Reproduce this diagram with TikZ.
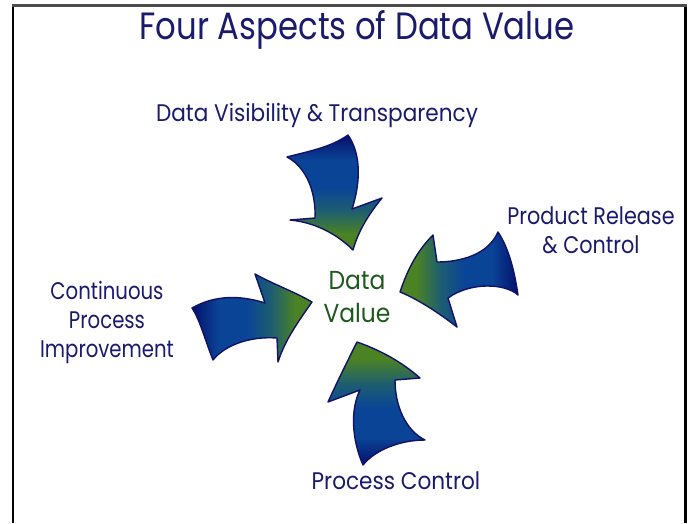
\documentclass[tikz,border=0pt]{standalone}
\usepackage{fontspec}
\setmainfont{Poppins}
\definecolor{txtnavy}{HTML}{1A1A6E}
\definecolor{txtgreen}{HTML}{1E5A1E}
\definecolor{arrnavy}{HTML}{04106A}
\definecolor{arrblue}{HTML}{0A4496}
\definecolor{arrteal}{HTML}{1E5E70}
\definecolor{arrgreen}{HTML}{4A8224}
\definecolor{arredge}{HTML}{121268}
\pgfdeclarehorizontalshading{arrowgrad}{100bp}{color(0bp)=(arrnavy); color(25bp)=(arrnavy); color(36bp)=(arrblue); color(48bp)=(arrblue); color(58bp)=(arrteal); color(68bp)=(arrgreen); color(100bp)=(arrgreen)}
\begin{document}
\begin{tikzpicture}[x=1pt,y=-1pt,
  lbl/.style={text=txtnavy,align=center,inner sep=0pt},
  ctr/.style={text=txtgreen,align=center,inner sep=0pt},
  arrowshape/.style={draw=arredge,line width=1.4pt,line join=round,shading=arrowgrad},
  frame/.style={line width=2.4pt}]
\useasboundingbox (0,0) rectangle (692,523);
\fill[white] (0,0) rectangle (692,523);
% frame
\draw[frame,black] (13,523) -- (13,5.5);
\draw[frame,black] (685.5,523) -- (685.5,5.5);
\draw[frame,black!70] (11.8,5.5) -- (686.7,5.5);
% title
\node[lbl,font=\fontsize{38}{44}\selectfont] (title) at (357,30) {\scalebox{0.85}[1]{Four Aspects of Data Value}};
% labels
\node[lbl,font=\fontsize{24}{29}\selectfont] (vis) at (317,115) {\scalebox{0.9}[1]{Data Visibility \& Transparency}};
\node[lbl,font=\fontsize{24}{29}\selectfont] (rel) at (591,230) {\scalebox{0.865}[1]{Product Release}\\\scalebox{0.865}[1]{\& Control}};
\node[lbl,font=\fontsize{24}{29}\selectfont] (cpi) at (107,322) {\scalebox{0.82}[1]{Continuous}\\\scalebox{0.82}[1]{Process}\\\scalebox{0.82}[1]{Improvement}};
\node[lbl,font=\fontsize{24}{29}\selectfont] (pc) at (396,481) {\scalebox{0.9}[1]{Process Control}};
\node[ctr,font=\fontsize{26}{33}\selectfont] (dv) at (357,297) {\scalebox{0.9}[1]{Data}\\\scalebox{0.9}[1]{Value}};
% top arrow (pointing down)
\path[arrowshape,shading angle=270]
  (287,157) .. controls (305,152) and (330,148) .. (348,135)
  .. controls (362,155) and (360,185) .. (352,209)
  -- (382,198)
  .. controls (368,215) and (358,232) .. (353,250)
  .. controls (335,232) and (312,222) .. (290,220)
  -- (315,218)
  .. controls (316,195) and (308,168) .. cycle;
% right arrow (pointing left)
\path[arrowshape,shading angle=180]
  (498,232) .. controls (510,250) and (515,275) .. (518,295)
  .. controls (505,283) and (470,282) .. (448,298)
  -- (457,327)
  .. controls (435,310) and (415,298) .. (400,292)
  .. controls (408,268) and (418,250) .. (433,235)
  -- (437,262)
  .. controls (460,262) and (488,255) .. cycle;
% left arrow (pointing right)
\path[arrowshape,shading angle=0]
  (192,308) .. controls (215,295) and (240,295) .. (265,303)
  -- (255,274)
  .. controls (275,285) and (295,292) .. (312,302)
  .. controls (298,322) and (285,340) .. (278,362)
  -- (277,338)
  .. controls (250,336) and (225,345) .. (213,360)
  .. controls (205,340) and (200,320) .. cycle;
% bottom arrow (pointing up)
\path[arrowshape,shading angle=90]
  (357,342) .. controls (380,350) and (402,362) .. (420,378)
  -- (395,380)
  .. controls (395,405) and (405,430) .. (425,440)
  .. controls (400,440) and (375,450) .. (363,465)
  .. controls (352,440) and (350,410) .. (360,390)
  -- (328,402)
  .. controls (338,380) and (348,360) .. cycle;
\end{tikzpicture}
\end{document}
